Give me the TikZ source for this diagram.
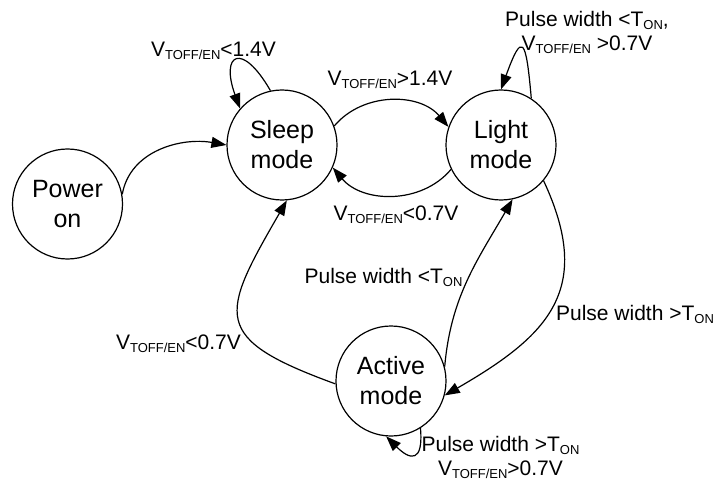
\documentclass[tikz,border=0pt]{standalone}
\usepackage{fontspec}
\setmainfont{Liberation Sans}
\usetikzlibrary{arrows.meta}
\newcommand{\modetext}{\fontsize{25}{30}\selectfont}
\newcommand{\condtext}{\fontsize{21}{24}\selectfont}
\newcommand{\lowtxt}[1]{\raisebox{-3pt}{\fontsize{13}{13}\selectfont #1}}
\newcommand{\Vten}{V\lowtxt{TOFF/EN}}
\newcommand{\Ton}{T\lowtxt{ON}}
\begin{document}
\begin{tikzpicture}[x=1pt, y=1pt, node distance=219pt, line width=1.2pt,
    mode/.style={circle, draw, minimum size=110pt, inner sep=0pt, align=center, font=\modetext},
    cond/.style={inner sep=0pt, align=center, font=\condtext},
    >={Triangle[length=15pt, width=11pt]}]
    \useasboundingbox (0,0) rectangle (714,-481);
    \node[mode] (power) at (67.5,-204) {Power\\on};
    \node[mode] (sleep) at (282,-145) {Sleep\\mode};
    \node[mode] (light) [right of=sleep] {Light\\mode};
    \node[mode] (active) at (391,-381) {Active\\mode};
    \node[cond] (c1) at (213.5,-50.5) {\Vten<1.4V};
    \node[cond] (c2) at (390,-80) {\Vten>1.4V};
    \node[cond] (c3) at (396,-215) {\Vten<0.7V};
    \node[cond] (c4) at (587,-32) {Pulse width <\Ton,\\\Vten{} >0.7V};
    \node[cond] (c5) at (383.5,-277) {Pulse width <\Ton};
    \node[cond] (c6) at (178.5,-344) {\Vten<0.7V};
    \node[cond] (c7) at (635,-314) {Pulse width >\Ton};
    \node[cond] (c8) at (500.5,-457.5) {Pulse width >\Ton\\\Vten>0.7V};
    \draw[->] (power.10) to[out=80, in=170] (sleep.west);
    \draw[->] (sleep.102) to[out=120, in=110, looseness=4.2] (sleep.139);
    \draw[->] (sleep.20) to[out=50, in=130] (light.161);
    \draw[->] (light.206) to[out=-130, in=-50] (sleep.-24);
    \draw[->] (light.57) to[out=95, in=70, looseness=5] (light.90);
    \draw[->] (active.15) to[out=85, in=-120] (light.-78);
    \draw[->] (light.-40) to[out=-65, in=30, looseness=1.3] (active.-15);
    \draw[->] (active.183) to[out=160, in=-120, looseness=1.8] (sleep.-85);
    \draw[->] (active.-58) to[out=-85, in=-45, looseness=2.5] (active.-95);
\end{tikzpicture}
\end{document}
